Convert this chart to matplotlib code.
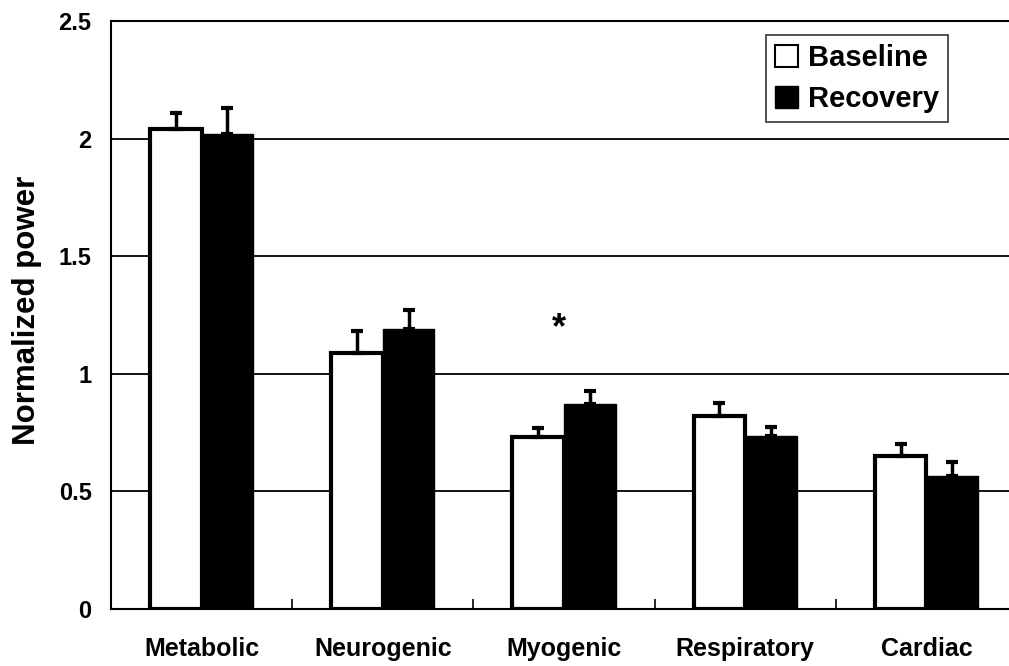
import numpy as np
import matplotlib
matplotlib.use("Agg")
import matplotlib.pyplot as plt

plt.rcParams['font.family'] = ['Liberation Sans', 'DejaVu Sans']
plt.rcParams['font.weight'] = 'bold'

# valores
categorias = ['Metabolic', 'Neurogenic', 'Myogenic', 'Respiratory', 'Cardiac']
baseline = [2.04, 1.09, 0.73, 0.82, 0.65]
baseline_err = [0.07, 0.09, 0.04, 0.055, 0.05]
recovery = [2.02, 1.19, 0.87, 0.735, 0.565]
recovery_err = [0.11, 0.08, 0.055, 0.04, 0.06]
y_ticks = [0, 0.5, 1, 1.5, 2, 2.5]
y_labels = ['0', '0.5', '1', '1.5', '2', '2.5']
asterisco_idx = 2
asterisco_y = 1.19

fig = plt.figure(figsize=(10.09, 6.66), dpi=100)
ax = fig.add_axes([0.110, 0.086, 0.898, 0.882])

x = np.arange(len(categorias))
w = 0.285

for yv in y_ticks[1:]:
    ax.axhline(yv, color='black', lw=1.3, zorder=0)

ax.bar(x - w / 2, baseline, w, color='white', edgecolor='black', linewidth=3,
       label='Baseline', zorder=2)
ax.bar(x + w / 2, recovery, w, color='black', edgecolor='black', linewidth=1,
       label='Recovery', zorder=2)

# barras de erro so para cima
ax.errorbar(x - w / 2, baseline, yerr=[np.zeros(5), baseline_err], fmt='none',
            ecolor='black', elinewidth=2.5, capsize=4, capthick=3, zorder=3)
ax.errorbar(x + w / 2, recovery, yerr=[np.zeros(5), recovery_err], fmt='none',
            ecolor='black', elinewidth=2.5, capsize=4, capthick=3, zorder=3)

ax.text(x[asterisco_idx] - 0.03, asterisco_y, '*', ha='center', va='center',
        fontsize=26, fontweight='bold')

ax.set_xlim(-0.5, 4.5)
ax.set_ylim(0, 2.5)
ax.set_yticks(y_ticks)
ax.set_yticklabels(y_labels)
ax.tick_params(axis='y', length=0, pad=14, labelsize=17)

ax.set_xticks(x)
ax.set_xticklabels(categorias)
ax.tick_params(axis='x', length=0, pad=20, labelsize=18)
ax.set_xticks(np.arange(0.5, 4.5, 1), minor=True)
ax.tick_params(axis='x', which='minor', direction='in', length=7, width=1.2)

for lab in ax.get_xticklabels() + ax.get_yticklabels():
    lab.set_fontweight('bold')

ax.set_ylabel('Normalized power', fontsize=22.5, fontweight='bold')
ax.yaxis.set_label_coords(-0.076, 0.508)

for s in ax.spines.values():
    s.set_linewidth(1.5)

leg = ax.legend(loc='upper right', bbox_to_anchor=(0.924, 0.976),
                prop={'weight': 'bold', 'size': 21},
                frameon=True, fancybox=False, edgecolor='black',
                handlelength=0.8, handleheight=0.75, handletextpad=0.35,
                borderpad=0.3, labelspacing=0.45, borderaxespad=0)
leg.get_frame().set_linewidth(1.2)
leg.legend_handles[0].set_linewidth(1.5)

fig.savefig('out.png', dpi=100)
